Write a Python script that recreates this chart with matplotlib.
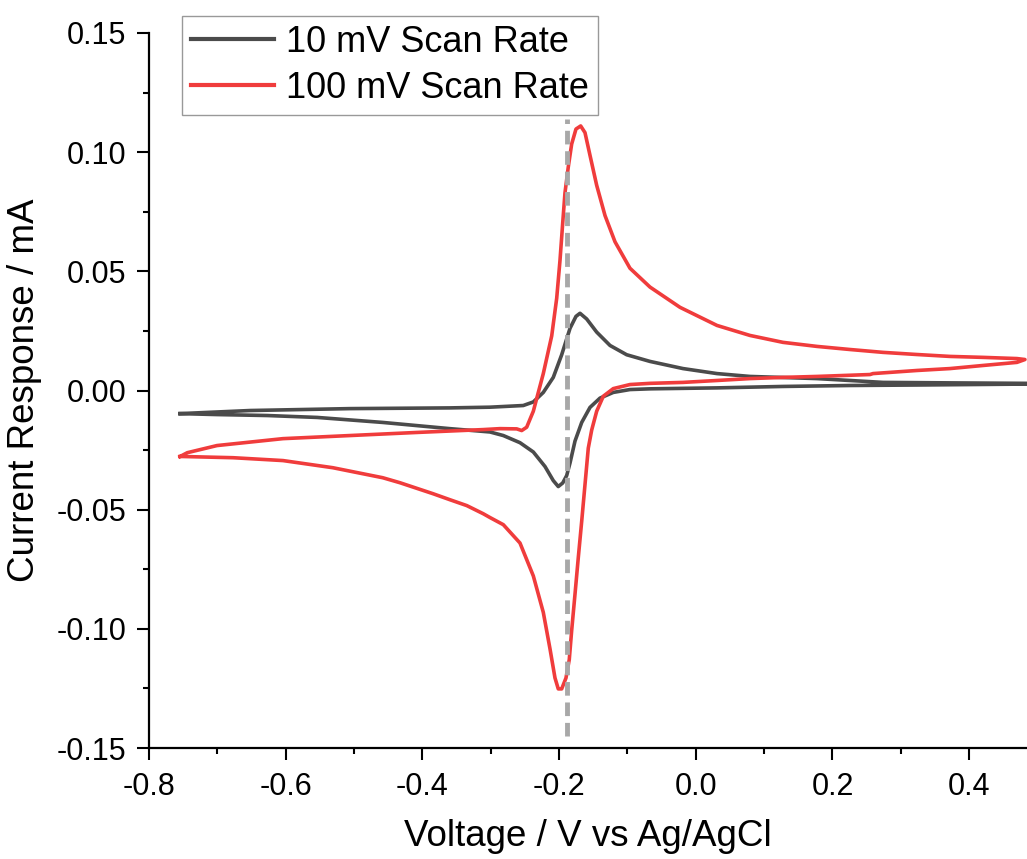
import matplotlib
matplotlib.use("Agg")
import matplotlib.pyplot as plt
from matplotlib.ticker import MultipleLocator, FormatStrFormatter

plt.rcParams['font.family'] = ['Liberation Sans', 'DejaVu Sans']
plt.rcParams['axes.unicode_minus'] = False

# 100 mV scan: left vertex -> anodic sweep -> right vertex -> cathodic sweep -> back
v_100 = [-0.7546, -0.744, -0.7005, -0.604, -0.506, -0.408, -0.311, -0.2865,
         -0.262, -0.2547, -0.2474, -0.2377, -0.2231, -0.2108, -0.2035, -0.1987,
         -0.1947, -0.1914, -0.1865, -0.1816, -0.1753, -0.1684, -0.1621, -0.1548,
         -0.1450, -0.1328, -0.1182, -0.0963, -0.0670, -0.0231, 0.031, 0.0793,
         0.1276, 0.1773, 0.2256, 0.2739, 0.3236, 0.3719, 0.4202, 0.4699, 0.4816,
         0.4699, 0.4202, 0.3719, 0.3236, 0.2593, 0.2549, 0.1773, 0.1276,
         0.0793, 0.031, -0.0187, -0.0670, -0.0963, -0.1207, -0.1353, -0.1450,
         -0.1523, -0.1573, -0.1621, -0.1669, -0.1719, -0.1767, -0.1816, -0.1851,
         -0.1899, -0.1962, -0.2012, -0.2060, -0.2133, -0.2231, -0.2377, -0.2572,
         -0.2816, -0.3011, -0.311, -0.335, -0.360, -0.3845, -0.4328, -0.458,
         -0.531, -0.604, -0.677, -0.750, -0.7546]
i_100 = [-0.0277, -0.0261, -0.0231, -0.0202, -0.0189, -0.0176, -0.0164, -0.0160,
         -0.0161, -0.0168, -0.0154, -0.0087, 0.0071, 0.0229, 0.0387, 0.0545,
         0.0703, 0.0829, 0.0939, 0.1034, 0.1097, 0.1110, 0.1082, 0.0987,
         0.0861, 0.0734, 0.0624, 0.0513, 0.0434, 0.0349, 0.0273, 0.0231,
         0.0202, 0.0185, 0.0172, 0.0160, 0.0151, 0.0143, 0.0139, 0.0134, 0.0130,
         0.0118, 0.0105, 0.0092, 0.0084, 0.0071, 0.0067, 0.0059, 0.0055,
         0.0050, 0.0042, 0.0034, 0.0030, 0.0025, 0.0008, -0.0024, -0.0087,
         -0.0166, -0.0242, -0.0395, -0.0548, -0.0701, -0.0854, -0.1007, -0.1129,
         -0.1206, -0.1252, -0.1252, -0.1206, -0.1084, -0.0931, -0.0778, -0.0640,
         -0.0563, -0.0533, -0.0517, -0.0483, -0.0458, -0.0433, -0.0387, -0.0366,
         -0.0324, -0.0294, -0.0282, -0.0277, -0.0277]

# 10 mV scan
v_10 = [-0.7546, -0.652, -0.506, -0.360, -0.3011, -0.2524, -0.2377, -0.2231,
        -0.2085, -0.1962, -0.1840, -0.1753, -0.1694, -0.1596, -0.1450, -0.1255,
        -0.1011, -0.0670, -0.0187, 0.031, 0.0793, 0.1773, 0.2739, 0.3719,
        0.4846, 0.49,
        0.4846, 0.3236, 0.2256, 0.1276, 0.031, -0.0187, -0.0670, -0.0963,
        -0.1207, -0.1402, -0.1548, -0.1669, -0.1767, -0.1840, -0.1889, -0.1947,
        -0.2012, -0.2085, -0.2206, -0.2377, -0.2572, -0.2816, -0.3011, -0.360,
        -0.458, -0.554, -0.627, -0.7005, -0.7546]
i_10 = [-0.0097, -0.0084, -0.0076, -0.0073, -0.0070, -0.0063, -0.0048, -0.0008,
        0.0055, 0.0150, 0.0261, 0.0311, 0.0324, 0.0300, 0.0245, 0.0189,
        0.0150, 0.0122, 0.0092, 0.0071, 0.0059, 0.0050, 0.0034, 0.0032,
        0.0030, 0.0028,
        0.0027, 0.0023, 0.0021, 0.0017, 0.0011, 0.0009, 0.0007, 0.0004,
        -0.0008, -0.0032, -0.0071, -0.0134, -0.0212, -0.0304, -0.0357, -0.0388,
        -0.0403, -0.0378, -0.0319, -0.0258, -0.0219, -0.0189, -0.0174, -0.0160,
        -0.0134, -0.0113, -0.0105, -0.0101, -0.0097]

marker_v = -0.189
marker_i = [-0.145, 0.114]

gray = '#4b4b4b'
red = '#f03c3c'

fig = plt.figure(figsize=(10.27, 8.59), dpi=100)
ax = fig.add_axes([149 / 1027, 1 - 748 / 859, 1 - 149 / 1027, (748 - 33) / 859])

ax.plot([marker_v, marker_v], marker_i, color='#a8a8a8', linewidth=3.5,
        linestyle=(0, (2.8, 1.4)), zorder=3)
ax.plot(v_10, i_10, color=gray, linewidth=2.6, label='10 mV Scan Rate',
        solid_joinstyle='round', zorder=2)
ax.plot(v_100, i_100, color=red, linewidth=2.6, label='100 mV Scan Rate',
        solid_joinstyle='round', zorder=2)

ax.set_xlim(-0.8, 0.4846)
ax.set_ylim(-0.15, 0.15)
ax.xaxis.set_major_locator(MultipleLocator(0.2))
ax.xaxis.set_minor_locator(MultipleLocator(0.1))
ax.yaxis.set_major_locator(MultipleLocator(0.05))
ax.yaxis.set_minor_locator(MultipleLocator(0.025))
ax.xaxis.set_major_formatter(FormatStrFormatter('%.1f'))
ax.yaxis.set_major_formatter(FormatStrFormatter('%.2f'))

ax.spines['top'].set_visible(False)
ax.spines['right'].set_visible(False)
for s in ('left', 'bottom'):
    ax.spines[s].set_linewidth(1.6)
ax.tick_params(which='major', direction='out', length=8.5, width=1.5,
               labelsize=22, pad=8)
ax.tick_params(which='minor', direction='out', length=4.3, width=1.5)
ax.tick_params(axis='x', which='major', pad=9)

ax.set_xlabel('Voltage / V vs Ag/AgCl', fontsize=26.5, labelpad=12)
ax.set_ylabel('Current Response / mA', fontsize=26.5, labelpad=10)

leg = ax.legend(loc='upper left', bbox_to_anchor=(182 / 1027, 1 - 16 / 859),
                bbox_transform=fig.transFigure, borderaxespad=0, fontsize=26,
                frameon=True, fancybox=False, edgecolor='#808080',
                handlelength=2.3, handletextpad=0.33, labelspacing=0.3,
                borderpad=0.25)
leg.get_frame().set_linewidth(1.0)
for line in leg.get_lines():
    line.set_linewidth(3.0)

fig.savefig('out.png', dpi=100)
